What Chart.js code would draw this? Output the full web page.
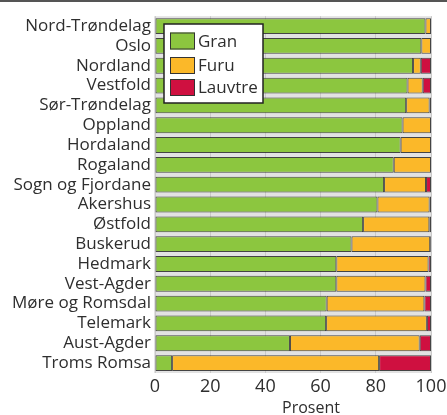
<!DOCTYPE html>
<html>
<head>
<meta charset="utf-8">
<script src="https://cdn.jsdelivr.net/npm/chart.js@4/dist/chart.umd.min.js"></script>
<style>
  html, body { margin: 0; padding: 0; background: #fff; }
  #wrap { position: relative; width: 447px; height: 415px; border-top: 2px solid #555; box-sizing: border-box; }
</style>
</head>
<body>
<div id="wrap"><canvas id="chart"></canvas></div>
<script>
const categories = [
  "Nord-Trøndelag", "Oslo", "Nordland", "Vestfold", "Sør-Trøndelag", "Oppland",
  "Hordaland", "Rogaland", "Sogn og Fjordane", "Akershus", "Østfold", "Buskerud",
  "Hedmark", "Vest-Agder", "Møre og Romsdal", "Telemark", "Aust-Agder", "Troms Romsa"
];
const gran    = [98, 96.5, 93.5, 91.5, 91, 89.7, 89, 86.5, 83, 80.6, 75.4, 71.2, 65.7, 65.7, 62.2, 62, 48.9, 6.2];
const furu    = [2, 3.5, 2.8, 5.5, 8.5, 10.3, 11, 13.5, 15.2, 18.9, 24, 28.5, 33.4, 32.3, 35.4, 36.5, 47, 75];
const lauvtre = [0, 0, 3.7, 3, 0.5, 0, 0, 0, 1.8, 0.5, 0.6, 0.3, 0.9, 2, 2.4, 1.5, 4.1, 18.8];
const xTicks  = [0, 20, 40, 60, 80, 100];

const textColor = "#2e2e2e";
const font = "'Open Sans', sans-serif";

// grey plot background
const plotBg = {
  id: "plotBg",
  beforeDraw(chart) {
    const { ctx, chartArea: a } = chart;
    ctx.save();
    ctx.fillStyle = "#e2e2e2";
    ctx.fillRect(a.left - 1, a.top, a.right - a.left + 2, a.bottom - a.top);
    ctx.restore();
  }
};

// boxed legend inside the plot, plus the axis title
const boxLegend = {
  id: "boxLegend",
  afterDraw(chart) {
    const ctx = chart.ctx;
    ctx.save();
    ctx.fillStyle = "#fff";
    ctx.fillRect(164, 22, 99, 79);
    ctx.strokeStyle = "#222";
    ctx.lineWidth = 1.5;
    ctx.strokeRect(164, 22, 99, 79);
    const rows = [39, 63.5, 85.5];
    chart.data.datasets.forEach((ds, i) => {
      const y = rows[i];
      ctx.fillStyle = ds.backgroundColor;
      ctx.fillRect(170, y - 8.5, 25, 17);
      ctx.strokeStyle = "#333";
      ctx.lineWidth = 1;
      ctx.strokeRect(170.5, y - 8, 24, 16);
      ctx.fillStyle = textColor;
      ctx.font = "17px " + font;
      ctx.textBaseline = "middle";
      ctx.fillText(ds.label, 198, y + 1);
    });
    ctx.font = "16px " + font;
    ctx.textAlign = "center";
    ctx.textBaseline = "middle";
    ctx.fillText("Prosent", 311, 406);
    ctx.restore();
  }
};

new Chart(document.getElementById("chart"), {
  type: "bar",
  data: {
    labels: categories,
    datasets: [
      { label: "Gran", data: gran, backgroundColor: "#8cc63f" },
      { label: "Furu", data: furu, backgroundColor: "#fbb829" },
      { label: "Lauvtre", data: lauvtre, backgroundColor: "#cf1040" }
    ].map(d => Object.assign(d, {
      borderColor: "rgba(40,40,40,0.85)",
      borderWidth: 1,
      borderSkipped: false,
      categoryPercentage: 1,
      barPercentage: 0.8
    }))
  },
  options: {
    indexAxis: "y",
    responsive: true,
    maintainAspectRatio: false,
    animation: false,
    layout: { padding: { top: 12, right: 16, left: 0, bottom: 0 } },
    plugins: { legend: { display: false }, tooltip: { enabled: false } },
    scales: {
      x: {
        stacked: true,
        min: 0,
        max: 100,
        afterBuildTicks(scale) { scale.ticks = xTicks.map(v => ({ value: v })); },
        afterFit(scale) { scale.height = 42; scale.paddingRight = 0; scale.paddingLeft = 0; },
        grid: { color: "#c9c9c9", drawTicks: false, lineWidth: 1 },
        border: { display: false },
        ticks: { color: textColor, font: { family: font, size: 18 }, padding: 3 }
      },
      y: {
        stacked: true,
        afterFit(scale) { scale.width = 155; },
        grid: { display: false, drawTicks: false },
        border: { display: false },
        ticks: { color: textColor, font: { family: font, size: 17 }, padding: 4, autoSkip: false }
      }
    }
  },
  plugins: [plotBg, boxLegend]
});
</script>
</body>
</html>
